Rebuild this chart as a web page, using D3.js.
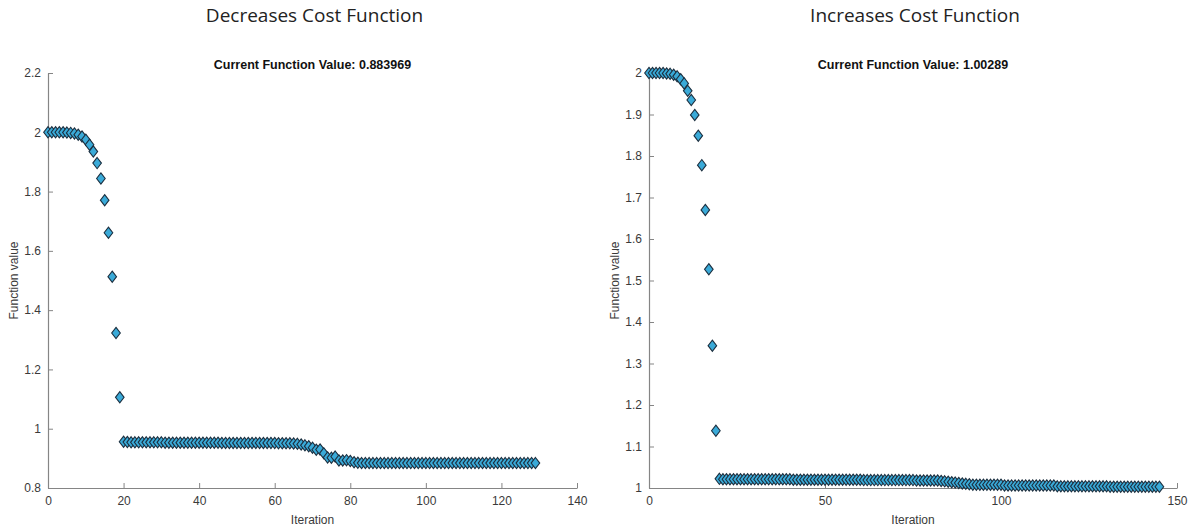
<!DOCTYPE html>
<html>
<head>
<meta charset="utf-8">
<script src="https://cdn.jsdelivr.net/npm/d3@7"></script>
<style>
    body { margin: 0; background: #fff; }
    .tick text { font-family: "Liberation Sans", Arial, sans-serif; font-size: 12px; fill: #3a3a3a; }
    .title { font-family: "Open Sans", sans-serif; font-size: 19px; fill: #222; }
    .subtitle { font-family: "Liberation Sans", Arial, sans-serif; font-size: 12.5px; font-weight: bold; fill: #111; }
    .axisLabel { font-family: "Liberation Sans", Arial, sans-serif; font-size: 12px; fill: #3a3a3a; }
</style>
</head>
<body>
<div class="chart"></div>
<script>
const width = 1193
const height = 532

// function value per iteration
const decreasesValues = [
    2.000, 2.000, 2.000, 2.000, 2.000, 1.999, 1.998, 1.996, 1.992, 1.986,
    1.975, 1.958, 1.935, 1.896, 1.844, 1.771, 1.661, 1.513, 1.323, 1.106,
    0.956, 0.955, 0.954, 0.954, 0.954, 0.954, 0.954, 0.954, 0.954, 0.954,
    0.954, 0.953, 0.953, 0.953, 0.953, 0.953, 0.953, 0.953, 0.953, 0.953,
    0.953, 0.953, 0.953, 0.953, 0.953, 0.953, 0.952, 0.952, 0.952, 0.952,
    0.952, 0.952, 0.952, 0.952, 0.952, 0.952, 0.952, 0.952, 0.952, 0.952,
    0.952, 0.951, 0.951, 0.951, 0.951, 0.950, 0.949, 0.947, 0.944, 0.941,
    0.936, 0.929, 0.930, 0.917, 0.903, 0.902, 0.906, 0.893, 0.893, 0.894,
    0.891, 0.887, 0.885, 0.884, 0.884, 0.884, 0.884, 0.884, 0.884, 0.884,
    0.884, 0.884, 0.884, 0.884, 0.884, 0.884, 0.884, 0.884, 0.884, 0.884,
    0.884, 0.884, 0.884, 0.884, 0.884, 0.884, 0.884, 0.884, 0.884, 0.884,
    0.884, 0.884, 0.884, 0.884, 0.884, 0.884, 0.884, 0.884, 0.884, 0.884,
    0.884, 0.884, 0.884, 0.884, 0.884, 0.884, 0.884, 0.884, 0.884, 0.884
]

const increasesValues = [
    2.000, 2.000, 2.000, 2.000, 2.000, 1.999, 1.998, 1.996, 1.992, 1.985,
    1.975, 1.957, 1.935, 1.899, 1.849, 1.778, 1.670, 1.527, 1.343, 1.138,
    1.022, 1.021, 1.021, 1.021, 1.021, 1.021, 1.021, 1.021, 1.021, 1.021,
    1.021, 1.021, 1.021, 1.021, 1.021, 1.021, 1.021, 1.021, 1.021, 1.021,
    1.021, 1.020, 1.020, 1.020, 1.020, 1.020, 1.020, 1.020, 1.020, 1.020,
    1.020, 1.020, 1.020, 1.020, 1.020, 1.020, 1.020, 1.020, 1.020, 1.020,
    1.020, 1.019, 1.019, 1.019, 1.019, 1.019, 1.019, 1.019, 1.019, 1.019,
    1.019, 1.019, 1.019, 1.019, 1.019, 1.019, 1.018, 1.018, 1.018, 1.018,
    1.018, 1.018, 1.018, 1.017, 1.016, 1.015, 1.014, 1.013, 1.012, 1.011,
    1.010, 1.009, 1.008, 1.008, 1.008, 1.008, 1.008, 1.008, 1.008, 1.008,
    1.008, 1.006, 1.006, 1.006, 1.006, 1.006, 1.006, 1.006, 1.006, 1.006,
    1.006, 1.006, 1.006, 1.006, 1.006, 1.006, 1.004, 1.004, 1.004, 1.004,
    1.004, 1.004, 1.004, 1.004, 1.004, 1.004, 1.004, 1.004, 1.004, 1.004,
    1.004, 1.003, 1.003, 1.003, 1.003, 1.003, 1.003, 1.003, 1.003, 1.003,
    1.003, 1.003, 1.003, 1.003, 1.003, 1.003
]

const panelTitles = ["Decreases Cost Function", "Increases Cost Function"]
const currentValues = ["0.883969", "1.00289"]
const xTicksLeft = [0, 20, 40, 60, 80, 100, 120, 140]
const xTicksRight = [0, 50, 100, 150]
const yTicksLeft = [0.8, 1, 1.2, 1.4, 1.6, 1.8, 2, 2.2]
const yTicksRight = [1, 1.1, 1.2, 1.3, 1.4, 1.5, 1.6, 1.7, 1.8, 1.9, 2]

const svg = d3.select(".chart").append("svg").attr("width", width).attr("height", height)

const panels = [
    { values: decreasesValues, xDomain: [0, 140], yDomain: [0.8, 2.2], xTicks: xTicksLeft, yTicks: yTicksLeft, left: 48, right: 577 },
    { values: increasesValues, xDomain: [0, 150], yDomain: [1, 2], xTicks: xTicksRight, yTicks: yTicksRight, left: 649, right: 1177 }
]

const plotTop = 73
const plotBottom = 488
const diamond = "M0,-5.6L4.3,0L0,5.6L-4.3,0Z"
const fmt = d => String(+d.toFixed(1))

panels.forEach(function (p, i) {
    let x = d3.scaleLinear().domain(p.xDomain).range([p.left, p.right])
    let y = d3.scaleLinear().domain(p.yDomain).range([plotBottom, plotTop])
    let mid = (p.left + p.right) / 2

    // titles
    svg.append("text").attr("class", "title")
        .attr("x", mid + 2).attr("y", 22)
        .attr("text-anchor", "middle").text(panelTitles[i])
    svg.append("text").attr("class", "subtitle")
        .attr("x", mid).attr("y", 69)
        .attr("text-anchor", "middle").text("Current Function Value: " + currentValues[i])

    // axes, matlab style inward ticks
    svg.append("g").attr("transform", "translate(0," + plotBottom + ")")
        .call(d3.axisBottom(x).tickValues(p.xTicks).tickFormat(d3.format("d")).tickSizeInner(-5).tickSizeOuter(0).tickPadding(8))
    svg.append("g").attr("transform", "translate(" + p.left + ",0)")
        .call(d3.axisLeft(y).tickValues(p.yTicks).tickFormat(fmt).tickSizeInner(-5).tickSizeOuter(0).tickPadding(7))

    svg.selectAll(".domain").attr("stroke", "#858585").attr("stroke-width", 1.2)
    svg.selectAll(".tick line").attr("stroke", "#858585")

    svg.append("text").attr("class", "axisLabel")
        .attr("x", mid).attr("y", 524)
        .attr("text-anchor", "middle").text("Iteration")
    svg.append("text").attr("class", "axisLabel")
        .attr("transform", "translate(" + (p.left - 30) + "," + ((plotTop + plotBottom) / 2) + ") rotate(-90)")
        .attr("text-anchor", "middle").text("Function value")

    // diamond markers
    svg.append("g").selectAll("path")
        .data(p.values)
        .enter()
        .append("path")
        .attr("d", diamond)
        .attr("transform", (d, j) => "translate(" + x(j) + "," + y(d) + ")")
        .attr("fill", "#3aaad8")
        .attr("stroke", "#1c2f3f")
        .attr("stroke-width", 1.1)
})
</script>
</body>
</html>
